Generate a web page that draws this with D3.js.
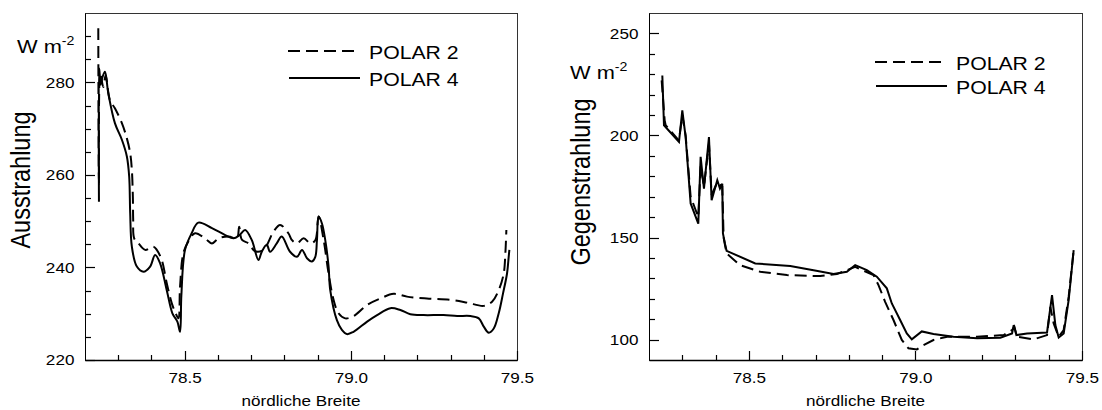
<html>
<head>
<meta charset="utf-8">
<script src="https://d3js.org/d3.v7.min.js"></script>
<style>
    body { margin: 0; background: #fff; }
    svg text { font-family: "Liberation Sans", Arial, sans-serif; fill: #000; }
    .axis .domain { stroke: #000; }
</style>
</head>
<body>
<svg id="chart" width="1102" height="410"></svg>
<script>
// x axis (nördliche Breite) ticks, shared by both panels
const xMajor = [78.5, 79.0, 79.5];
const xMinor = [78.3, 78.4, 78.6, 78.7, 78.8, 78.9, 79.1, 79.2, 79.3, 79.4];

// left panel: Ausstrahlung
const outYMajor = [220, 240, 260, 280];
const outYMinor = [225, 230, 235, 245, 250, 255, 265, 270, 275, 285, 290];

const outLat2 = [78.240, 78.242, 78.246, 78.255, 78.262, 78.275, 78.290, 78.311, 78.326, 78.336, 78.341, 78.344,
    78.345, 78.348, 78.361, 78.381, 78.406, 78.416, 78.431, 78.446, 78.461, 78.471, 78.481, 78.486, 78.496, 78.511,
    78.531, 78.561, 78.582, 78.602, 78.632, 78.657, 78.664, 78.672, 78.692, 78.712, 78.737, 78.767, 78.787, 78.812,
    78.823, 78.838, 78.858, 78.878, 78.893, 78.903, 78.918, 78.933, 78.948, 78.963, 78.983, 79.008, 79.049, 79.089,
    79.129, 79.169, 79.229, 79.299, 79.350, 79.400, 79.425, 79.445, 79.460, 79.465, 79.468];
const outVal2 = [291.7, 258.0, 282.0, 279.0, 281.5, 276.2, 274.4, 271.2, 267.9, 264.7, 261.1, 255.3,
    250.3, 246.3, 245.2, 243.8, 244.5, 243.8, 241.6, 236.6, 232.3, 230.4, 229.0, 235.8, 243.1, 245.6,
    247.4, 246.3, 245.2, 246.3, 246.7, 246.3, 248.8, 246.0, 245.2, 243.5, 243.8, 247.7, 249.2, 247.4,
    245.9, 245.2, 246.3, 245.2, 245.9, 251.0, 246.0, 238.7, 233.0, 230.1, 229.0, 229.5, 231.9, 233.3,
    234.3, 233.7, 233.3, 233.0, 232.4, 231.7, 232.6, 235.1, 238.7, 243.1, 248.1];

const outLat4 = [78.242, 78.243, 78.247, 78.252, 78.260, 78.270, 78.290, 78.311, 78.326, 78.333, 78.336, 78.341,
    78.356, 78.376, 78.396, 78.411, 78.426, 78.446, 78.463, 78.478, 78.486, 78.490, 78.501, 78.521, 78.541, 78.582,
    78.622, 78.647, 78.665, 78.682, 78.702, 78.722, 78.732, 78.747, 78.757, 78.777, 78.792, 78.817, 78.838, 78.853,
    78.868, 78.883, 78.893, 78.898, 78.903, 78.913, 78.923, 78.933, 78.938, 78.958, 78.973, 78.988, 79.008, 79.049,
    79.079, 79.119, 79.149, 79.179, 79.219, 79.279, 79.320, 79.360, 79.385, 79.400, 79.415, 79.430, 79.445, 79.458,
    79.470, 79.475, 79.477];
const outVal4 = [254.2, 283.0, 279.5, 281.0, 282.3, 277.7, 271.2, 267.6, 264.0, 259.6, 251.7, 244.5,
    240.2, 239.1, 240.2, 242.7, 240.9, 235.1, 230.1, 228.3, 226.1, 234.0, 243.8, 247.4, 249.7, 248.5,
    247.0, 246.3, 247.0, 248.1, 245.9, 241.6, 243.4, 244.9, 243.4, 245.2, 246.7, 243.4, 242.3, 243.8,
    242.0, 241.3, 242.3, 245.9, 251.0, 249.5, 245.9, 240.2, 235.1, 228.6, 226.5, 225.6, 226.1, 228.3,
    229.7, 231.2, 230.8, 229.9, 229.7, 229.7, 229.5, 229.5, 229.0, 227.2, 225.9, 226.8, 230.1, 234.4,
    238.7, 242.3, 243.8];

// right panel: Gegenstrahlung
const backYMajor = [100, 150, 200, 250];
const backYMinor = [110, 120, 130, 140, 160, 170, 180, 190, 210, 220, 230, 240];

const backLat2 = [78.238, 78.247, 78.250, 78.290, 78.300, 78.310, 78.325, 78.348, 78.355, 78.365, 78.380, 78.388,
    78.405, 78.420, 78.424, 78.433, 78.473, 78.534, 78.614, 78.714, 78.764, 78.819, 78.874, 78.889, 78.909, 78.934,
    78.959, 78.979, 79.004, 79.024, 79.054, 79.095, 79.135, 79.185, 79.265, 79.290, 79.297, 79.305, 79.355, 79.395,
    79.405, 79.415, 79.430, 79.445, 79.460, 79.475];
const backVal2 = [227.0, 207.4, 205.0, 197.5, 210.0, 200.0, 170.0, 160.0, 185.0, 175.0, 196.0, 171.0,
    177.0, 175.0, 150.0, 142.2, 136.5, 133.2, 131.6, 131.1, 132.1, 135.6, 131.6, 126.7, 118.5, 109.6,
    99.8, 95.7, 95.2, 97.3, 99.8, 101.4, 101.4, 101.4, 102.2, 104.7, 106.3, 101.4, 100.1, 102.2,
    116.0, 107.9, 101.4, 104.7, 121.0, 143.8];

const backLat4 = [78.240, 78.245, 78.290, 78.300, 78.310, 78.325, 78.348, 78.355, 78.365, 78.380, 78.388, 78.405,
    78.413, 78.420, 78.422, 78.428, 78.433, 78.519, 78.624, 78.694, 78.754, 78.794, 78.819, 78.854, 78.884, 78.914,
    78.929, 78.954, 78.974, 78.989, 79.019, 79.054, 79.114, 79.185, 79.255, 79.290, 79.295, 79.303, 79.335, 79.395,
    79.410, 79.420, 79.430, 79.445, 79.460, 79.475];
const backVal4 = [229.4, 205.0, 196.8, 212.3, 199.2, 166.7, 156.8, 189.5, 174.0, 199.2, 168.3, 178.1,
    174.0, 176.4, 152.0, 147.0, 143.5, 137.3, 136.0, 134.0, 132.1, 133.2, 136.5, 134.0, 130.8, 125.1,
    117.7, 109.6, 103.0, 100.1, 104.0, 102.7, 101.4, 100.6, 100.9, 103.0, 107.1, 102.2, 103.0, 103.5,
    121.8, 107.1, 101.0, 103.0, 119.4, 143.8];

const legendNames = ["POLAR 2", "POLAR 4"];
const xTitle = "nördliche Breite";

const svg = d3.select("#chart");
const plotTop = 13, plotBottom = 360;
const stretch = 1.18;   // the reference text is a little wider than plain Arial

const panels = [
    { left: 85, right: 517, yDomain: [220, 295], yMajor: outYMajor, yMinor: outYMinor, title: "Ausstrahlung",
      lat2: outLat2, val2: outVal2, lat4: outLat4, val4: outVal4, curve: d3.curveCatmullRom.alpha(0.5),
      unit: [17, 53], titleX: 30, titleY: 180, legend: [288, 51, 78] },
    { left: 649, right: 1082, yDomain: [90, 260], yMajor: backYMajor, yMinor: backYMinor, title: "Gegenstrahlung",
      lat2: backLat2, val2: backVal2, lat4: backLat4, val4: backVal4, curve: d3.curveLinear,
      unit: [570, 79], titleX: 590, titleY: 182, legend: [875, 62, 86] }
];

panels.forEach(p => {
    const g = svg.append("g");
    const x = d3.scaleLinear().domain([78.2, 79.5]).range([p.left, p.right]);
    const y = d3.scaleLinear().domain(p.yDomain).range([plotBottom, plotTop]);

    // frame
    g.append("rect")
        .attr("x", p.left + 0.5).attr("y", plotTop + 0.5)
        .attr("width", p.right - p.left).attr("height", plotBottom - plotTop)
        .attr("fill", "none").attr("stroke", "#333").attr("stroke-width", 1);

    // inward tick marks, placed with the scales
    const ticks = g.append("g").attr("stroke", "#000").attr("stroke-width", 1.2);
    ticks.selectAll(".xt")
        .data(xMinor.map(v => [v, 5]).concat(xMajor.map(v => [v, 9])))
        .join("line")
        .attr("x1", d => Math.round(x(d[0])) + 0.5).attr("x2", d => Math.round(x(d[0])) + 0.5)
        .attr("y1", plotBottom).attr("y2", d => plotBottom - d[1]);
    ticks.selectAll(".yt")
        .data(p.yMinor.map(v => [v, 6]).concat(p.yMajor.map(v => [v, 10])))
        .join("line")
        .attr("x1", p.left).attr("x2", d => p.left + d[1])
        .attr("y1", d => Math.round(y(d[0])) + 0.5).attr("y2", d => Math.round(y(d[0])) + 0.5);

    // axes for the labels
    const xa = g.append("g").attr("class", "axis")
        .attr("transform", `translate(0,${plotBottom})`)
        .call(d3.axisBottom(x).tickValues(xMajor).tickSize(0)
            .tickPadding(13).tickFormat(d3.format(".1f")));
    xa.select(".domain").attr("stroke-width", 1.6);
    xa.selectAll("text").attr("font-size", 14.5).attr("font-family", null)
        .attr("transform", `scale(${stretch},1)`);

    const ya = g.append("g").attr("class", "axis")
        .attr("transform", `translate(${p.left},0)`)
        .call(d3.axisLeft(y).tickValues(p.yMajor).tickSize(0).tickPadding(9));
    ya.selectAll("text").attr("font-size", 14.5).attr("font-family", null)
        .attr("transform", `scale(${stretch},1)`);

    // axis titles
    g.append("text")
        .attr("transform", `translate(${(p.left + p.right) / 2},406) scale(${stretch},1)`)
        .attr("text-anchor", "middle").attr("font-size", 14.5)
        .text(xTitle);
    g.append("text")
        .attr("transform", `translate(${p.titleX},${p.titleY}) rotate(-90) scale(1,${stretch})`)
        .attr("text-anchor", "middle").attr("font-size", 23.5)
        .text(p.title);
    const unit = g.append("text")
        .attr("transform", `translate(${p.unit[0]},${p.unit[1]}) scale(${stretch},1)`)
        .attr("font-size", 18.5);
    unit.append("tspan").text("W m");
    unit.append("tspan").attr("font-size", 12).attr("dy", -8).text("-2");

    // lines
    const line = d3.line().curve(p.curve).x(d => x(d[0])).y(d => y(d[1]));
    const s2 = d3.zip(p.lat2, p.val2);
    const s4 = d3.zip(p.lat4, p.val4);
    g.append("path").attr("d", line(s2))
        .attr("fill", "none").attr("stroke", "#000").attr("stroke-width", 2)
        .attr("stroke-dasharray", "12,6");
    g.append("path").attr("d", line(s4))
        .attr("fill", "none").attr("stroke", "#000").attr("stroke-width", 2);

    // legend
    const [lx, ly2, ly4] = p.legend;
    g.append("line").attr("x1", lx).attr("x2", lx + 72).attr("y1", ly2).attr("y2", ly2)
        .attr("stroke", "#000").attr("stroke-width", 2).attr("stroke-dasharray", "12,6");
    g.append("line").attr("x1", lx + 1).attr("x2", lx + 72).attr("y1", ly4).attr("y2", ly4)
        .attr("stroke", "#000").attr("stroke-width", 2);
    legendNames.forEach((name, i) => {
        g.append("text")
            .attr("transform", `translate(${lx + 81},${(i === 0 ? ly2 : ly4) + 8}) scale(${stretch},1)`)
            .attr("font-size", 18)
            .text(name);
    });
});
</script>
</body>
</html>
